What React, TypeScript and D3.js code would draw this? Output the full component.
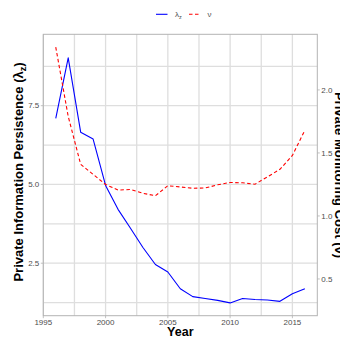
import React from "react";
import * as d3 from "d3";

// Yearly series
const years = [1996, 1997, 1998, 1999, 2000, 2001, 2002, 2003, 2004, 2005, 2006, 2007, 2008, 2009, 2010, 2011, 2012, 2013, 2014, 2015, 2016];
// Private information persistence (λz), left axis
const lambdaZ = [7.1, 9.02, 6.66, 6.44, 4.97, 4.21, 3.61, 3.0, 2.46, 2.22, 1.69, 1.44, 1.38, 1.32, 1.24, 1.38, 1.35, 1.33, 1.29, 1.53, 1.69];
// Private monitoring cost (ν), right axis
const nu = [2.34, 1.79, 1.41, 1.33, 1.25, 1.205, 1.21, 1.18, 1.16, 1.24, 1.23, 1.22, 1.222, 1.247, 1.266, 1.263, 1.252, 1.31, 1.37, 1.48, 1.68];
// Right axis is drawn on the left scale with this factor
const nuFactor = 4;

const xTicks = [1995, 2000, 2005, 2010, 2015];
const xMinor = [1997.5, 2002.5, 2007.5, 2012.5];
const yTicks = [2.5, 5.0, 7.5];
const yMinor = [1.25, 3.75, 6.25, 8.75];
const y2Ticks = [0.5, 1.0, 1.5, 2.0];

const W = 340;
const H = 338;
const panel = { left: 43.3, right: 317.3, top: 34.3, bottom: 315.7 };
const FONT = "'Liberation Sans', Arial, Helvetica, sans-serif";

function expand(ext: [number, number], f = 0.05): [number, number] {
  const d = (ext[1] - ext[0]) * f;
  return [ext[0] - d, ext[1] + d];
}

export default function App() {
  const xDom = expand(d3.extent(years) as [number, number]);
  const x = d3.scaleLinear().domain(xDom).range([panel.left, panel.right]);

  const allLeft = [...lambdaZ, ...nu.map((v) => v * nuFactor)];
  const yDom = expand(d3.extent(allLeft) as [number, number]);
  const y = d3.scaleLinear().domain(yDom).range([panel.bottom, panel.top]);
  const y2 = d3.scaleLinear().domain([yDom[0] / nuFactor, yDom[1] / nuFactor]).range([panel.bottom, panel.top]);

  const lineL = d3
    .line<number>()
    .x((_, i) => x(years[i]))
    .y((d) => y(d));
  const lineR = d3
    .line<number>()
    .x((_, i) => x(years[i]))
    .y((d) => y2(d));

  const gridColor = "#DEDEDE";
  const tickColor = "#4D4D4D";

  return (
    <svg width={W} height={H} style={{ position: "absolute", left: 0, top: 0, background: "#fff" }} fontFamily={FONT}>
      <rect x={0} y={0} width={W} height={H} fill="#fff" />

      {/* grid */}
      <g>
        {[...xMinor, ...xTicks].map((t) => (
          <line key={"gx" + t} x1={x(t)} x2={x(t)} y1={panel.top} y2={panel.bottom} stroke={gridColor} strokeWidth={1.3} />
        ))}
        {[...yMinor, ...yTicks].map((t) => (
          <line key={"gy" + t} x1={panel.left} x2={panel.right} y1={y(t)} y2={y(t)} stroke={gridColor} strokeWidth={1.3} />
        ))}
      </g>

      {/* series */}
      <path d={lineL(lambdaZ) ?? ""} fill="none" stroke="#0000FF" strokeWidth={1.1} strokeLinejoin="round" />
      <path d={lineR(nu) ?? ""} fill="none" stroke="#FF0000" strokeWidth={1.1} strokeDasharray="3.5,2.5" />

      {/* panel border */}
      <rect
        x={panel.left}
        y={panel.top}
        width={panel.right - panel.left}
        height={panel.bottom - panel.top}
        fill="none"
        stroke="#B3B3B3"
        strokeWidth={1}
      />

      {/* left axis */}
      <g fontSize={8} fill={tickColor}>
        {yTicks.map((t) => (
          <g key={"yl" + t}>
            <line x1={panel.left - 2.5} x2={panel.left} y1={y(t)} y2={y(t)} stroke="#B3B3B3" strokeWidth={0.8} />
            <text x={panel.left - 4} y={y(t)} dy="0.35em" textAnchor="end">
              {t.toFixed(1)}
            </text>
          </g>
        ))}
      </g>

      {/* right axis */}
      <g fontSize={8} fill={tickColor}>
        {y2Ticks.map((t) => (
          <g key={"yr" + t}>
            <line x1={panel.right} x2={panel.right + 2.5} y1={y2(t)} y2={y2(t)} stroke="#B3B3B3" strokeWidth={0.8} />
            <text x={panel.right + 4} y={y2(t)} dy="0.35em" textAnchor="start">
              {t.toFixed(1)}
            </text>
          </g>
        ))}
      </g>

      {/* bottom axis */}
      <g fontSize={8} fill={tickColor}>
        {xTicks.map((t) => (
          <g key={"xb" + t}>
            <line x1={x(t)} x2={x(t)} y1={panel.bottom} y2={panel.bottom + 2.5} stroke="#B3B3B3" strokeWidth={0.8} />
            <text x={x(t)} y={panel.bottom + 9.2} textAnchor="middle">
              {t}
            </text>
          </g>
        ))}
      </g>

      {/* axis titles */}
      <text x={(panel.left + panel.right) / 2} y={336} textAnchor="middle" fontSize={12.5} fontWeight="bold" fill="#000">
        Year
      </text>
      <text
        transform={`translate(23,${(panel.top + panel.bottom) / 2 - 3}) rotate(-90)`}
        textAnchor="middle"
        fontSize={13}
        fontWeight="bold"
        fill="#000"
      >
        Private Information Persistence (λ
        <tspan fontSize={9} dy={3}>
          z
        </tspan>
        <tspan dy={-3}>)</tspan>
      </text>
      <text
        transform={`translate(335,${(panel.top + panel.bottom) / 2}) rotate(90)`}
        textAnchor="middle"
        fontSize={13}
        fontWeight="bold"
        fill="#000"
      >
        Private Monitoring Cost (ν)
      </text>

      {/* legend */}
      <g fontSize={8} fill={tickColor}>
        <line x1={156} x2={167.5} y1={14.3} y2={14.3} stroke="#0000FF" strokeWidth={1.1} />
        <text x={175} y={14.3} dy="0.35em">
          λ
          <tspan fontSize={5.5} dy={1.5}>
            z
          </tspan>
        </text>
        <line x1={189} x2={200.5} y1={14.3} y2={14.3} stroke="#FF0000" strokeWidth={1.1} strokeDasharray="3.5,2.5" />
        <text x={207.5} y={14.3} dy="0.35em">
          ν
        </text>
      </g>
    </svg>
  );
}
